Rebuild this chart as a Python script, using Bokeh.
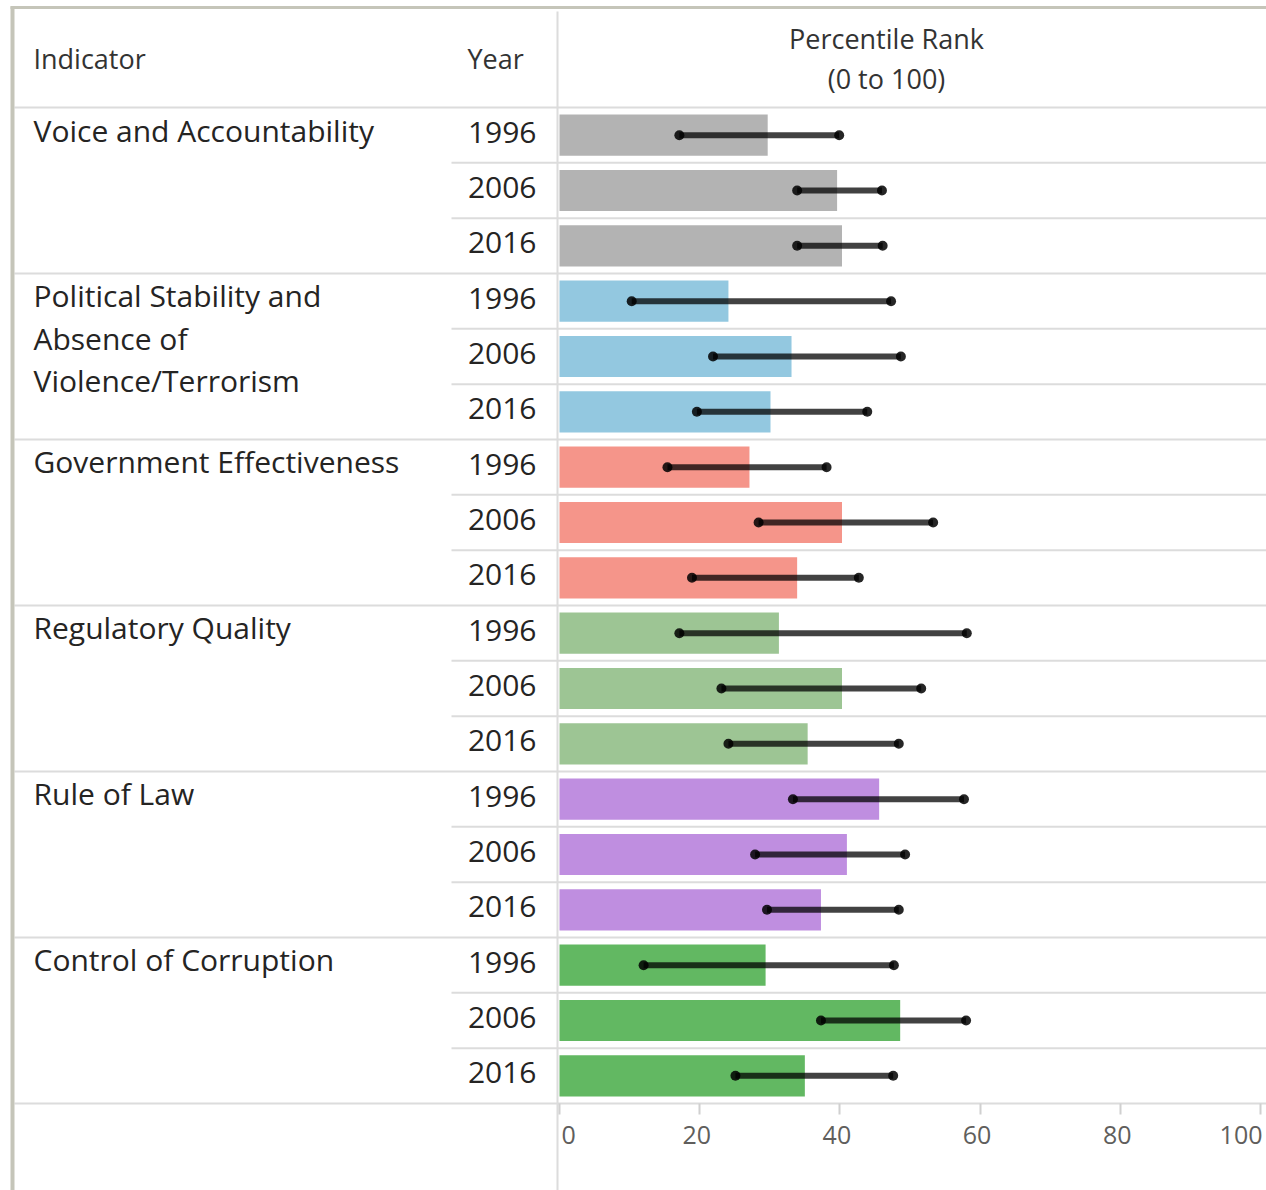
from bokeh.plotting import figure
from bokeh.models import Range1d, LinearAxis, FixedTicker, ColumnDataSource
from bokeh.core.properties import value
from bokeh.embed import file_html
from bokeh.resources import INLINE

# ---------------- data ----------------
indicators = [
    "Voice and Accountability",
    "Political Stability and\nAbsence of\nViolence/Terrorism",
    "Government Effectiveness",
    "Regulatory Quality",
    "Rule of Law",
    "Control of Corruption",
]
years = ["1996", "2006", "2016"]
colors = ["#b3b3b3", "#93c8e0", "#f5958a", "#9dc594", "#bf8ee0", "#62b862"]

# percentile rank (bar) and its lower / upper bounds (whiskers), 3 years per indicator
rank = [29.7, 39.6, 40.3,
        24.1, 33.1, 30.1,
        27.1, 40.3, 33.9,
        31.3, 40.3, 35.4,
        45.6, 41.0, 37.3,
        29.4, 48.6, 35.0]
lower = [17.1, 33.9, 33.9,
         10.3, 21.9, 19.6,
         15.4, 28.4, 18.9,
         17.1, 23.1, 24.1,
         33.3, 27.9, 29.6,
         12.0, 37.3, 25.1]
upper = [39.9, 46.0, 46.1,
         47.3, 48.7, 43.9,
         38.1, 53.3, 42.7,
         58.1, 51.6, 48.4,
         57.7, 49.3, 48.4,
         47.7, 58.0, 47.6]
ticks = [0, 20, 40, 60, 80, 100]
tick_labels = ["0", "20", "40", "60", "80", "100"]

header_indicator = "Indicator"
header_year = "Year"
header_rank = "Percentile Rank\n(0 to 100)"

# ---------------- layout ----------------
W, H = 1266, 1190
PX0 = 559.0          # canvas px of value 0
PXU = 7.01           # px per percentile unit
ROW_TOP = 107.0      # canvas px of first row top
ROW_H = 55.333       # px per row
n_rows = len(indicators) * len(years)

x_start = (0 - PX0) / PXU
x_end = (W - PX0) / PXU
y_top = -ROW_TOP / ROW_H
y_bot = (H - ROW_TOP) / ROW_H


def xpx(px):
    return (px - PX0) / PXU


def ypx(px):
    return (px - ROW_TOP) / ROW_H


p = figure(width=W, height=H, output_backend="svg", toolbar_location=None,
           x_range=Range1d(x_start, x_end), y_range=Range1d(y_bot, y_top),
           x_axis_type=None, y_axis_type=None, min_border=0)
p.outline_line_color = None
p.background_fill_color = "white"
p.border_fill_color = "white"

rows = list(range(n_rows))
centers = [r + 0.5 for r in rows]
bar_colors = [c for c in colors for _ in years]
year_col = [y for _ in indicators for y in years]

src = ColumnDataSource(dict(y=centers, rank=rank, lower=lower, upper=upper,
                            color=bar_colors, year=year_col))

# grid lines of the table
grid = "#dcdcdc"
full_lines = [i * len(years) for i in range(len(indicators) + 1)]
inner_lines = [r for r in range(n_rows) if r % len(years) != 0]
p.segment(x0=[xpx(14)] * len(full_lines), x1=[x_end] * len(full_lines),
          y0=full_lines, y1=full_lines, line_color=grid, line_width=2)
p.segment(x0=[xpx(451)] * len(inner_lines), x1=[x_end] * len(inner_lines),
          y0=inner_lines, y1=inner_lines, line_color=grid, line_width=2)
# vertical separator between table and chart
p.segment(x0=[xpx(557)], x1=[xpx(557)], y0=[ypx(11)], y1=[y_bot],
          line_color=grid, line_width=2)
# outer frame (top & left)
frame = "#c5c5b9"
p.segment(x0=[xpx(12)], x1=[xpx(12)], y0=[ypx(6)], y1=[y_bot],
          line_color=frame, line_width=4)
p.segment(x0=[xpx(10)], x1=[x_end], y0=[ypx(7)], y1=[ypx(7)],
          line_color=frame, line_width=3)

# bars
p.hbar(y="y", left=0, right="rank", height=0.745, fill_color="color",
       line_color=None, source=src)
# whiskers
p.segment(x0="lower", x1="upper", y0="y", y1="y", line_color="black",
          line_alpha=0.74, line_width=6, source=src)
p.scatter(x="lower", y="y", size=10, fill_color="black", fill_alpha=0.85,
          line_color=None, source=src)
p.scatter(x="upper", y="y", size=10, fill_color="black", fill_alpha=0.85,
          line_color=None, source=src)

FONT = value("Open Sans")
TXT = "#252423"
HDR = "#333333"

# year labels
p.text(x=0, y="y", text="year", source=src, x_offset=-23, y_offset=-3,
       text_align="right", text_baseline="middle", text_font=FONT,
       text_font_size="30px", text_color=TXT)

# indicator labels
ind_y = [i * len(years) for i in range(len(indicators))]
p.text(x=[xpx(33)] * len(indicators), y=ind_y, text=indicators, y_offset=2,
       text_align="left", text_baseline="top", text_font=FONT,
       text_font_size="30px", text_color=TXT, text_line_height=1.03)

# headers
p.text(x=[xpx(33)], y=[0], text=[header_indicator], y_offset=-49,
       text_align="left", text_baseline="middle", text_font=FONT,
       text_font_size="27px", text_color=HDR)
p.text(x=[xpx(467)], y=[0], text=[header_year], y_offset=-49,
       text_align="left", text_baseline="middle", text_font=FONT,
       text_font_size="27px", text_color=HDR)
p.text(x=[xpx(886)], y=[0], text=[header_rank], y_offset=-49,
       text_align="center", text_baseline="middle", text_font=FONT,
       text_font_size="27px", text_color=HDR, text_line_height=1.1)

# x axis (ticks) at the bottom line of the table
axis = LinearAxis(fixed_location=n_rows, ticker=FixedTicker(ticks=ticks),
                  major_tick_in=0, major_tick_out=11,
                  major_tick_line_color="#d0d0d0", major_tick_line_width=2,
                  minor_tick_line_color=None, axis_line_color=None,
                  major_label_overrides={t: "" for t in ticks})
p.add_layout(axis, "below")

# tick labels
lab_y = n_rows
p.text(x=ticks[:1], y=[lab_y], text=tick_labels[:1], x_offset=2, y_offset=32,
       text_align="left", text_baseline="middle", text_font=FONT,
       text_font_size="25px", text_color="#605e5c")
p.text(x=ticks[1:-1], y=[lab_y] * 4, text=tick_labels[1:-1], x_offset=-3, y_offset=32,
       text_align="center", text_baseline="middle", text_font=FONT,
       text_font_size="25px", text_color="#605e5c")
p.text(x=ticks[-1:], y=[lab_y], text=tick_labels[-1:], x_offset=2, y_offset=32,
       text_align="right", text_baseline="middle", text_font=FONT,
       text_font_size="25px", text_color="#605e5c")

open("out.html", "w").write(file_html(p, INLINE))
